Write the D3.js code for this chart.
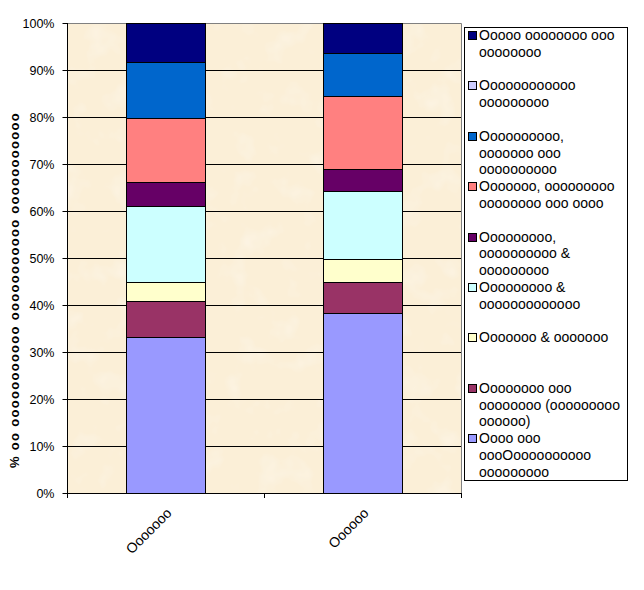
<!DOCTYPE html>
<html>
<head>
<meta charset="utf-8">
<script src="https://cdn.jsdelivr.net/npm/d3@7"></script>
<style>
  html, body { margin: 0; padding: 0; background: #ffffff; }
  svg { display: block; }
  text { font-family: Arial, "Liberation Sans", sans-serif; fill: #000; }
</style>
</head>
<body>
<svg id="chart" width="644" height="590"></svg>
<script>
// ---------- data ----------
const categories = ["Ooooooo", "Oooooo"];

// stacked from bottom to top
const seriesNames = [
  "Oooo ooo\noooOoooooooooo\nooooooooo",
  "Oooooooo ooo\noooooooo (ooooooooo\noooooo)",
  "Ooooooo & ooooooo",
  "Ooooooooo &\nooooooooooooo",
  "Ooooooooo,\noooooooooo &\nooooooooo",
  "Ooooooo, ooooooooo\noooooooo ooo oooo",
  "Oooooooooo,\nooooooo ooo\noooooooooo",
  "Oooooooooooo\nooooooooo",
  "Ooooo oooooooo ooo\noooooooo"
];
const seriesColors = [
  "#9999FF", "#993366", "#FFFFCC", "#CCFFFF", "#660066",
  "#FF8080", "#0066CC", "#CCCCFF", "#000080"
];
const seriesValues = [
  [33.1, 38.2],
  [7.7, 6.8],
  [4.0, 4.7],
  [16.2, 14.5],
  [5.1, 4.8],
  [13.7, 15.4],
  [11.8, 9.3],
  [0, 0],
  [8.4, 6.3]
];
const yTicks = [0, 10, 20, 30, 40, 50, 60, 70, 80, 90, 100];
const yTitle = "% oo ooooooooooo ooooooooooo ooooooooooo";

// ---------- layout ----------
const svg = d3.select("#chart");
const plot = { left: 67, top: 23, right: 461, bottom: 493 };

const x = d3.scaleBand().domain(categories).range([plot.left, plot.right]).padding(0);
const y = d3.scaleLinear().domain([0, 100]).range([plot.bottom, plot.top]);
const barW = x.bandwidth() * 0.4;

// parchment texture filter
const defs = svg.append("defs");
const f = defs.append("filter").attr("id", "parch").attr("x", 0).attr("y", 0).attr("width", 1).attr("height", 1);
f.append("feTurbulence").attr("type", "fractalNoise").attr("baseFrequency", 0.035).attr("numOctaves", 3).attr("seed", 3).attr("result", "n");
f.append("feColorMatrix").attr("in", "n").attr("type", "matrix")
  .attr("values", "0 0 0 0 1  0 0 0 0 1  0 0 0 0 1  1.6 0 0 0 -0.85")
  .attr("result", "spots");
f.append("feComposite").attr("in", "spots").attr("in2", "SourceGraphic").attr("operator", "in").attr("result", "s2");
f.append("feComponentTransfer").attr("in", "s2").attr("result", "s3")
  .append("feFuncA").attr("type", "linear").attr("slope", 0.45);
const fm = f.append("feMerge");
fm.append("feMergeNode").attr("in", "SourceGraphic");
fm.append("feMergeNode").attr("in", "s3");

// plot background
svg.append("rect")
  .attr("x", plot.left).attr("y", plot.top)
  .attr("width", plot.right - plot.left).attr("height", plot.bottom - plot.top)
  .attr("fill", "#FBEFD7")
  .attr("filter", "url(#parch)");

// gridlines
svg.append("g").selectAll("line")
  .data(yTicks.filter(t => t > 0 && t < 100))
  .join("line")
  .attr("x1", plot.left).attr("x2", plot.right)
  .attr("y1", d => Math.round(y(d)) + 0.5).attr("y2", d => Math.round(y(d)) + 0.5)
  .attr("stroke", "#000").attr("stroke-width", 1);

// plot border top/right (gray)
svg.append("path")
  .attr("d", `M${plot.left},${plot.top + 0.5}H${plot.right + 0.5}V${plot.bottom}`)
  .attr("fill", "none").attr("stroke", "#808080").attr("stroke-width", 1);

// stacked data
const table = categories.map((c, i) => {
  const row = { cat: c };
  seriesNames.forEach((s, j) => row["s" + j] = seriesValues[j][i]);
  return row;
});
const keys = seriesNames.map((s, j) => "s" + j);
const stacked = d3.stack().keys(keys)(table);

const gBars = svg.append("g");
stacked.forEach((layer, j) => {
  gBars.append("g")
    .selectAll("rect")
    .data(layer.filter(d => d[1] - d[0] > 0))
    .join("rect")
    .attr("x", d => Math.round(x(d.data.cat) + (x.bandwidth() - barW) / 2) + 0.5)
    .attr("width", Math.round(barW))
    .attr("y", d => Math.round(y(d[1])) + 0.5)
    .attr("height", d => Math.round(y(d[0])) - Math.round(y(d[1])))
    .attr("fill", seriesColors[j])
    .attr("stroke", "#000").attr("stroke-width", 1);
});

// y axis
const yAxis = d3.axisLeft(y).tickValues(yTicks).tickFormat(d => d + "%").tickSize(5).tickPadding(8);
const gy = svg.append("g").attr("transform", `translate(${plot.left + 0.5},0)`).call(yAxis);
gy.select(".domain").attr("stroke", "#000").attr("d", `M0,${plot.top}V${plot.bottom + 0.5}`);
gy.selectAll(".tick line").attr("stroke", "#000");
gy.selectAll(".tick text").attr("font-size", 12.5).attr("font-family", "Arial, 'Liberation Sans', sans-serif").attr("fill", "#000");

// x axis (boundary ticks)
svg.append("line")
  .attr("x1", plot.left).attr("x2", plot.right + 1)
  .attr("y1", plot.bottom + 0.5).attr("y2", plot.bottom + 0.5)
  .attr("stroke", "#000");
const bounds = categories.map(c => x(c)).concat([x(categories[categories.length - 1]) + x.bandwidth()]);
svg.append("g").selectAll("line").data(bounds).join("line")
  .attr("x1", d => Math.round(d) + 0.5).attr("x2", d => Math.round(d) + 0.5)
  .attr("y1", plot.bottom).attr("y2", plot.bottom + 5)
  .attr("stroke", "#000");

// x labels rotated
svg.append("g").selectAll("text").data(categories).join("text")
  .attr("transform", d => `translate(${x(d) + x.bandwidth() / 2 + 7},${plot.bottom + 21}) rotate(-45)`)
  .attr("text-anchor", "end")
  .attr("font-size", 14)
  .text(d => d);

// y title
svg.append("text")
  .attr("transform", `translate(19,290) rotate(-90)`)
  .attr("text-anchor", "middle")
  .attr("font-size", 13)
  .attr("font-weight", "bold")
  .attr("letter-spacing", "1.3px")
  .text(yTitle);

// legend
const leg = { x: 464, y: 27, w: 163, h: 453 };
svg.append("rect")
  .attr("x", leg.x + 0.5).attr("y", leg.y + 0.5)
  .attr("width", leg.w).attr("height", leg.h)
  .attr("fill", "#fff").attr("stroke", "#000");

const legendOrder = seriesNames.map((s, j) => j).reverse();
const itemStep = 50.4, lineH = 16.7;
const gl = svg.append("g");
legendOrder.forEach((j, k) => {
  const cy = 35 + k * itemStep;
  gl.append("rect")
    .attr("x", 468.5).attr("y", Math.round(cy - 4) + 0.5)
    .attr("width", 8).attr("height", 8)
    .attr("fill", seriesColors[j]).attr("stroke", "#000");
  const t = gl.append("text").attr("font-size", 14).attr("x", 479).attr("y", cy + 5);
  seriesNames[j].split("\n").forEach((line, li) => {
    t.append("tspan").attr("x", 479).attr("dy", li === 0 ? 0 : lineH).text(line);
  });
});
</script>
</body>
</html>
